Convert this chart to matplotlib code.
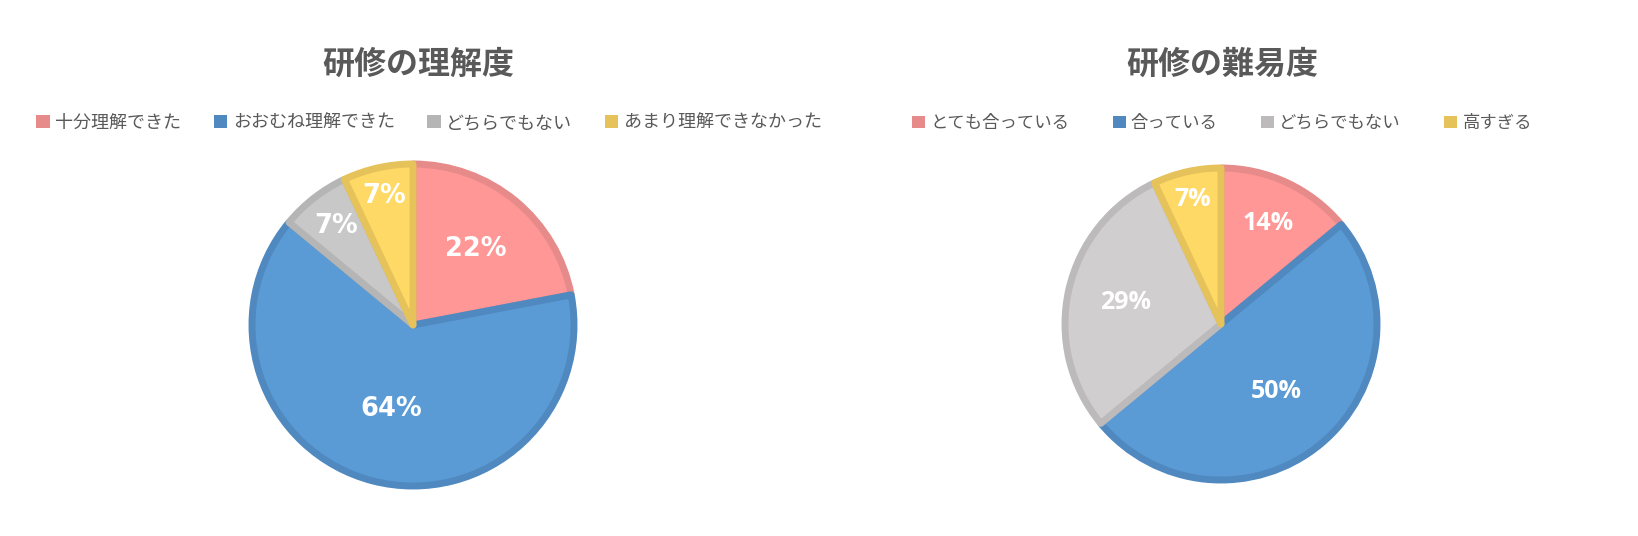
import matplotlib
matplotlib.use('Agg')
import matplotlib.pyplot as plt
from matplotlib.patches import Patch
import numpy as np

plt.rcParams['font.family'] = ['Noto Sans CJK JP', 'DejaVu Sans']

# data
titles = ['研修の理解度', '研修の難易度']
labels_left = ['十分理解できた', 'おおむね理解できた', 'どちらでもない', 'あまり理解できなかった']
values_left = [22, 64, 7, 7]
labels_right = ['とても合っている', '合っている', 'どちらでもない', '高すぎる']
values_right = [14, 50, 29, 7]

# styles
fills_left = ['#FF9797', '#5B9BD5', '#C8C8C8', '#FFD966']
edges_left = ['#E78A8A', '#4F89C0', '#B5B5B5', '#E6C25A']
fills_right = ['#FF9797', '#5B9BD5', '#D0CECE', '#FFD966']
edges_right = ['#E78A8A', '#4F89C0', '#BCBABA', '#E6C25A']
text_col = '#595959'

W, H = 1638, 536
fig = plt.figure(figsize=(W / 100, H / 100), dpi=100)


def draw_pie(cx, cy, r_px, values, fills, edges, label_r, font, fsize):
    half = 200
    ax = fig.add_axes([(cx - half) / W, (H - cy - half) / H, 2 * half / W, 2 * half / H])
    lim = half / r_px
    wedges, _ = ax.pie(values, colors=fills, startangle=90, counterclock=False,
                       radius=1.0, wedgeprops=dict(linewidth=5))
    for w, ec in zip(wedges, edges):
        w.set_edgecolor(ec)
        w.set_joinstyle('round')
    total = sum(values)
    start = 90.0
    for v, rr in zip(values, label_r):
        mid = np.deg2rad(start - 360.0 * v / total / 2)
        start -= 360.0 * v / total
        ax.text(rr * np.cos(mid), rr * np.sin(mid), f'{v}%', ha='center', va='center',
                color='white', fontsize=fsize, fontweight='bold', family=font)
    ax.set_xlim(-lim, lim)
    ax.set_ylim(-lim, lim)
    ax.set_aspect('equal')
    ax.axis('off')


draw_pie(413, 325, 161, values_left, fills_left, edges_left,
         [0.61, 0.54, 0.78, 0.82], 'DejaVu Sans', 18.5)
draw_pie(1221, 324, 156, values_right, fills_right, edges_right,
         [0.71, 0.56, 0.63, 0.82], 'Open Sans', 18)

# titles
for t, x in zip(titles, [418, 1222]):
    fig.text(x / W, 1 - 65 / H, t, ha='center', va='center',
             fontsize=23, fontweight='bold', color=text_col)

# legends
legend_specs = [(labels_left, edges_left, 429, 13, 1.8),
                (labels_right, edges_right, 1222, 12.5, 2.5)]
for labels, edges, x, fs, cs in legend_specs:
    handles = [Patch(facecolor=c, edgecolor='none') for c in edges]
    fig.legend(handles, labels, loc='center', bbox_to_anchor=(x / W, 1 - 123 / H),
               ncol=4, frameon=False, fontsize=fs, labelcolor=text_col,
               handlelength=0.75, handleheight=0.75, handletextpad=0.3,
               columnspacing=cs)

fig.savefig('out.png', dpi=100)
